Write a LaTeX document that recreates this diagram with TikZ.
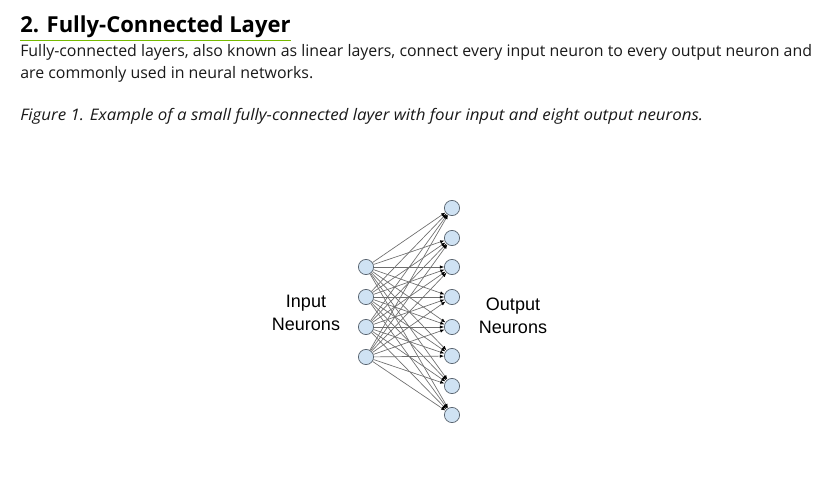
\documentclass[tikz,border=0pt]{standalone}
\usepackage{fontspec}
\setmainfont{Open Sans}
\newfontfamily\capfont[FakeStretch=1.062]{Open Sans}
\newfontfamily\arialfont{Liberation Sans}
\usetikzlibrary{arrows.meta}
\definecolor{nvgreen}{HTML}{76B900}
\definecolor{neuronfill}{HTML}{CFE2F3}
\definecolor{neuronline}{HTML}{5A6570}
\definecolor{edgecol}{HTML}{6E6E6E}
\definecolor{txt}{HTML}{1A1A1A}
\tikzset{
  neuron/.style={circle, draw=neuronline, fill=neuronfill, line width=0.55pt, minimum size=11.4pt, inner sep=0pt},
  edge/.style={draw=edgecol, line width=0.5pt, -{Latex[length=3.2pt,width=2.6pt,fill=black,color=black]}},
  lbl/.style={font=\arialfont\fontsize{13.5pt}{17pt}\selectfont, align=center, text=black},
  para/.style={anchor=base west, inner sep=0pt, text=txt}
}
\begin{document}
\begin{tikzpicture}[x=0.75pt,y=-0.75pt]
\useasboundingbox (0,0) rectangle (836,503);
\fill[white] (0,0) rectangle (836,503);
\node[para, font=\bfseries\fontsize{16.5pt}{20pt}\selectfont, text=black] (head) at (20,33) {2. Fully-Connected Layer};
\draw[nvgreen, line width=0.9pt] (20,40.5) -- (291,40.5);
\node[para, font=\fontsize{11.93pt}{16pt}\selectfont] (p1) at (20,57) {Fully-connected layers, also known as linear layers, connect every input neuron to every output neuron and};
\node[para, font=\fontsize{11.93pt}{16pt}\selectfont] (p2) at (20,79) {are commonly used in neural networks.};
\node[para, font=\capfont\itshape\fontsize{11.93pt}{16pt}\selectfont] (cap) at (20,120.5) {Figure 1. Example of a small fully-connected layer with four input and eight output neurons.};
\foreach \i/\y in {1/267,2/297,3/327,4/357} \node[neuron] (i\i) at (366,\y) {};
\foreach \j/\y in {1/208,2/238,3/267,4/297,5/327,6/356,7/386,8/415} \node[neuron] (o\j) at (452,\y) {};
\foreach \i in {1,...,4} \foreach \j in {1,...,8} \draw[edge] (i\i) -- (o\j);
\node[lbl] (inl) at (306,313) {Input\\Neurons};
\node[lbl] (outl) at (513,316) {Output\\Neurons};
\end{tikzpicture}
\end{document}
